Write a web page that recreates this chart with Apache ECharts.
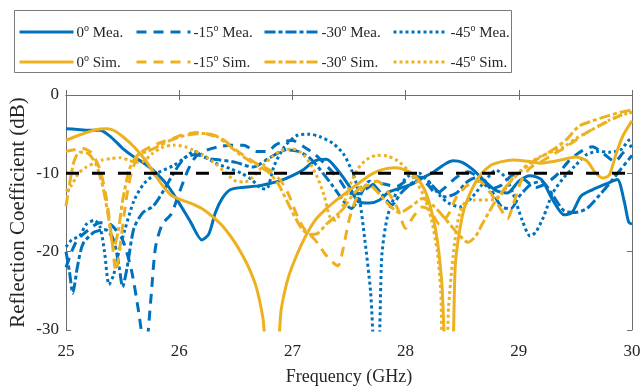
<!DOCTYPE html>
<html>
<head>
<meta charset="utf-8">
<script src="https://cdn.jsdelivr.net/npm/echarts@6/dist/echarts.min.js"></script>
<style>
  html, body { margin: 0; padding: 0; background: #fff; }
  #chart { width: 642px; height: 390px; }
</style>
</head>
<body>
<div id="chart"></div>
<script>
// Reflection coefficient (dB) versus frequency (GHz), measured and simulated at four steering angles.
const xTicks = [25, 26, 27, 28, 29, 30];
const yTicks = [-30, -20, -10, 0];
const threshold = -10;

const mea0 = [[25.0,-4.3],[25.1,-4.4],[25.2,-4.5],[25.3,-4.5],[25.4,-5.4],[25.5,-6.8],[25.6,-7.9],[25.7,-8.8],[25.8,-10.0],[25.9,-11.6],[26.0,-13.8],[26.1,-16.2],[26.2,-18.5],[26.26,-17.8],[26.32,-15.0],[26.38,-13.2],[26.45,-12.1],[26.55,-11.8],[26.7,-11.6],[26.8,-11.3],[26.9,-10.9],[27.0,-10.3],[27.1,-9.5],[27.2,-8.4],[27.3,-8.2],[27.4,-9.6],[27.5,-11.6],[27.58,-13.6],[27.68,-13.8],[27.77,-13.4],[27.85,-12.4],[27.95,-11.9],[28.05,-11.4],[28.15,-10.6],[28.25,-9.8],[28.35,-8.8],[28.42,-8.4],[28.5,-8.6],[28.6,-9.6],[28.7,-11.0],[28.8,-12.2],[28.9,-12.5],[29.0,-11.0],[29.1,-10.3],[29.2,-10.8],[29.3,-13.4],[29.4,-15.3],[29.47,-15.0],[29.55,-12.9],[29.65,-12.1],[29.78,-11.3],[29.87,-10.8],[29.93,-13.5],[29.97,-16.2],[30.0,-16.5]];

const mea15 = [[25.0,-22.0],[25.05,-20.0],[25.1,-18.5],[25.2,-17.2],[25.3,-16.3],[25.4,-16.6],[25.5,-18.5],[25.58,-22.5],[25.64,-27.5],[25.7,-33],[25.75,-26.0],[25.79,-19.5],[25.85,-16.5],[25.93,-15.2],[26.0,-12.5],[26.08,-9.5],[26.15,-7.8],[26.25,-7.0],[26.35,-6.6],[26.45,-6.4],[26.57,-6.4],[26.68,-7.2],[26.78,-7.2],[26.85,-6.4],[26.93,-5.9],[27.0,-5.8],[27.1,-6.6],[27.2,-7.6],[27.3,-9.0],[27.42,-10.9],[27.5,-12.5],[27.57,-12.6],[27.65,-12.0],[27.75,-11.2],[27.85,-11.5],[27.92,-11.7],[28.0,-11.0],[28.1,-10.4],[28.2,-11.5],[28.27,-12.6],[28.35,-11.8],[28.45,-10.5],[28.55,-9.8],[28.65,-10.6],[28.75,-12.0],[28.85,-11.5],[28.95,-10.2],[29.05,-10.8],[29.15,-11.8],[29.25,-11.2],[29.35,-10.0],[29.45,-8.3],[29.55,-7.2],[29.65,-6.6],[29.75,-7.5],[29.85,-8.5],[29.92,-7.4],[30.0,-6.4]];

const mea30 = [[25.0,-20.0],[25.03,-22.5],[25.06,-25.3],[25.1,-22.0],[25.15,-19.0],[25.25,-17.5],[25.35,-17.2],[25.42,-18.5],[25.47,-22.0],[25.5,-24.5],[25.54,-22.0],[25.6,-17.0],[25.68,-15.0],[25.77,-14.2],[25.85,-12.5],[25.95,-10.0],[26.05,-8.0],[26.15,-7.6],[26.25,-8.1],[26.36,-8.3],[26.5,-8.6],[26.65,-9.2],[26.8,-8.0],[26.95,-7.0],[27.05,-7.2],[27.15,-8.0],[27.25,-9.6],[27.35,-11.5],[27.45,-13.5],[27.52,-14.5],[27.6,-12.8],[27.68,-11.0],[27.78,-12.5],[27.88,-14.0],[27.96,-12.5],[28.05,-11.3],[28.15,-10.5],[28.25,-11.8],[28.35,-13.0],[28.45,-12.5],[28.55,-11.0],[28.65,-10.4],[28.75,-12.0],[28.85,-14.3],[28.93,-14.5],[29.0,-13.0],[29.1,-11.5],[29.2,-11.0],[29.3,-12.8],[29.4,-14.8],[29.5,-15.0],[29.6,-14.5],[29.7,-13.0],[29.8,-11.3],[29.9,-9.5],[30.0,-7.7]];

const mea45 = [[25.0,-19.4],[25.05,-18.5],[25.12,-18.0],[25.18,-16.5],[25.25,-16.0],[25.3,-16.8],[25.34,-20.0],[25.38,-24.2],[25.42,-23.0],[25.47,-19.8],[25.52,-17.2],[25.6,-13.5],[25.69,-11.3],[25.8,-10.0],[25.95,-9.0],[26.05,-8.0],[26.13,-7.2],[26.22,-7.8],[26.32,-8.7],[26.45,-9.4],[26.55,-10.0],[26.64,-10.8],[26.72,-11.9],[26.77,-12.0],[26.84,-9.0],[26.93,-6.6],[27.05,-5.1],[27.15,-5.0],[27.24,-5.3],[27.36,-6.2],[27.45,-7.5],[27.52,-9.5],[27.58,-12.1],[27.64,-18.5],[27.69,-25.0],[27.73,-33],[27.76,-33],[27.79,-20.5],[27.84,-15.5],[27.93,-12.1],[28.02,-10.4],[28.12,-10.0],[28.22,-11.3],[28.3,-12.8],[28.38,-13.8],[28.48,-14.3],[28.59,-13.0],[28.7,-11.0],[28.8,-9.6],[28.88,-10.5],[28.95,-12.6],[29.03,-16.0],[29.1,-18.0],[29.15,-17.5],[29.22,-15.5],[29.3,-12.5],[29.4,-10.5],[29.5,-9.0],[29.6,-7.6],[29.7,-7.2],[29.8,-7.3],[29.9,-7.0],[29.97,-5.8],[30.0,-5.6]];

const sim0 = [[25.0,-5.8],[25.1,-5.2],[25.2,-4.7],[25.3,-4.35],[25.36,-4.3],[25.42,-4.5],[25.5,-5.3],[25.6,-6.6],[25.7,-8.3],[25.76,-9.6],[25.85,-11.5],[25.93,-12.8],[26.0,-13.3],[26.1,-13.8],[26.2,-14.5],[26.3,-15.6],[26.4,-17.0],[26.5,-19.0],[26.6,-21.6],[26.68,-24.5],[26.74,-28.5],[26.78,-33],[26.86,-33],[26.9,-27.5],[26.95,-24.0],[27.0,-21.8],[27.1,-18.5],[27.2,-16.0],[27.3,-14.5],[27.4,-13.3],[27.5,-12.2],[27.6,-11.1],[27.7,-10.1],[27.8,-9.5],[27.9,-9.3],[28.0,-9.6],[28.1,-10.6],[28.18,-12.5],[28.24,-15.5],[28.28,-18.5],[28.32,-24.0],[28.36,-33],[28.41,-33],[28.44,-21.5],[28.5,-15.5],[28.55,-13.2],[28.65,-10.4],[28.75,-9.0],[28.85,-8.5],[28.95,-8.3],[29.1,-8.5],[29.2,-8.7],[29.3,-8.5],[29.4,-8.2],[29.5,-7.9],[29.6,-8.4],[29.67,-9.8],[29.74,-10.6],[29.8,-10.2],[29.86,-7.5],[29.92,-5.2],[30.0,-3.3]];

const sim15 = [[25.0,-7.2],[25.07,-7.0],[25.14,-6.8],[25.22,-7.3],[25.3,-9.5],[25.36,-13.5],[25.41,-19.0],[25.44,-22.5],[25.48,-19.0],[25.53,-13.5],[25.58,-9.8],[25.65,-7.5],[25.75,-6.6],[25.85,-6.0],[25.95,-5.5],[26.05,-5.0],[26.18,-4.8],[26.3,-5.2],[26.4,-5.8],[26.5,-7.0],[26.6,-8.0],[26.7,-8.9],[26.8,-9.6],[26.9,-11.0],[26.97,-12.8],[27.03,-15.0],[27.1,-17.0],[27.2,-18.5],[27.3,-20.5],[27.4,-21.8],[27.45,-19.5],[27.5,-16.0],[27.56,-13.4],[27.65,-11.5],[27.75,-11.0],[27.85,-12.5],[27.93,-14.5],[28.0,-17.0],[28.07,-15.5],[28.15,-14.3],[28.22,-14.8],[28.3,-16.5],[28.38,-15.2],[28.45,-13.0],[28.55,-11.5],[28.65,-11.0],[28.75,-12.5],[28.85,-14.8],[28.9,-15.8],[28.95,-14.0],[29.02,-11.0],[29.1,-9.3],[29.2,-8.5],[29.3,-7.6],[29.4,-6.8],[29.5,-5.8],[29.6,-4.8],[29.7,-4.0],[29.8,-3.3],[29.9,-2.6],[30.0,-2.2]];

const sim30 = [[25.0,-14.2],[25.03,-11.5],[25.07,-8.5],[25.12,-7.3],[25.2,-7.5],[25.27,-9.0],[25.33,-12.0],[25.38,-16.0],[25.42,-19.5],[25.46,-17.5],[25.5,-13.5],[25.56,-9.5],[25.63,-7.7],[25.72,-7.2],[25.82,-6.5],[25.92,-5.8],[26.02,-5.3],[26.12,-5.0],[26.22,-4.9],[26.32,-5.2],[26.42,-6.2],[26.52,-7.4],[26.62,-8.4],[26.72,-9.2],[26.8,-10.0],[26.88,-11.5],[26.95,-13.5],[27.02,-15.5],[27.08,-17.0],[27.15,-17.8],[27.22,-17.7],[27.3,-16.5],[27.38,-15.5],[27.45,-14.5],[27.52,-13.0],[27.6,-11.8],[27.68,-11.5],[27.76,-12.5],[27.85,-14.0],[27.95,-15.0],[28.05,-14.2],[28.15,-13.2],[28.25,-14.2],[28.35,-15.8],[28.45,-17.5],[28.55,-18.8],[28.62,-18.0],[28.68,-16.4],[28.8,-13.4],[28.91,-11.3],[29.03,-9.6],[29.15,-8.3],[29.3,-7.0],[29.42,-5.7],[29.53,-4.0],[29.65,-3.3],[29.78,-2.7],[29.9,-2.2],[30.0,-1.9]];

const sim45 = [[25.0,-12.3],[25.05,-11.5],[25.11,-10.0],[25.18,-9.2],[25.25,-8.7],[25.32,-8.3],[25.4,-8.1],[25.48,-8.0],[25.55,-8.3],[25.62,-8.6],[25.68,-8.5],[25.76,-7.5],[25.85,-6.7],[25.95,-6.4],[26.05,-6.6],[26.12,-7.0],[26.2,-7.6],[26.3,-8.5],[26.4,-9.8],[26.5,-11.0],[26.58,-11.1],[26.65,-10.5],[26.73,-9.2],[26.82,-7.9],[26.9,-7.1],[27.0,-6.9],[27.08,-7.4],[27.15,-8.6],[27.22,-10.5],[27.28,-12.8],[27.33,-15.5],[27.38,-16.0],[27.45,-14.0],[27.5,-11.8],[27.58,-9.4],[27.66,-8.2],[27.75,-7.7],[27.84,-7.8],[27.93,-8.4],[28.02,-9.6],[28.1,-11.2],[28.17,-13.2],[28.23,-16.0],[28.28,-20.0],[28.31,-25.0],[28.33,-33],[28.36,-33],[28.38,-27.0],[28.42,-20.5],[28.47,-15.5],[28.53,-13.6],[28.6,-13.4],[28.7,-13.4],[28.8,-13.3],[28.88,-12.0],[28.95,-10.5],[29.02,-9.6],[29.1,-8.6],[29.2,-7.8],[29.3,-7.2],[29.4,-6.6],[29.5,-5.6],[29.6,-4.8],[29.7,-4.0],[29.8,-3.2],[29.9,-2.6],[30.0,-2.2]];

const BLUE = '#0072BD';
const GOLD = '#EDB120';
const FONT = "'Liberation Serif', 'Times New Roman', serif";
const TEXT = '#262626';
const DASH = [10, 7];
const DASHDOT = [11, 3, 4, 3];
const DOT = [3, 3];

function curve(name, data, color, type) {
  return {
    name: name,
    type: 'line',
    data: data,
    showSymbol: false,
    symbol: 'none',
    smooth: 0.25,
    clip: true,
    lineStyle: { color: color, width: 3, type: type, cap: 'butt' },
    itemStyle: { color: color },
    emphasis: { disabled: true },
    animation: false
  };
}

const series = [
  curve('0° Mea.', mea0, BLUE, 'solid'),
  curve('-15° Mea.', mea15, BLUE, DASH),
  curve('-30° Mea.', mea30, BLUE, DASHDOT),
  curve('-45° Mea.', mea45, BLUE, DOT),
  curve('0° Sim.', sim0, GOLD, 'solid'),
  curve('-15° Sim.', sim15, GOLD, DASH),
  curve('-30° Sim.', sim30, GOLD, DASHDOT),
  curve('-45° Sim.', sim45, GOLD, DOT),
  {
    name: 'threshold',
    type: 'line',
    data: [[xTicks[0], threshold], [xTicks[xTicks.length - 1], threshold]],
    showSymbol: false,
    symbol: 'none',
    lineStyle: { color: '#000', width: 3, type: [13, 13] },
    emphasis: { disabled: true },
    animation: false,
    z: 5
  }
];

// Legend labels: angle, raised "o" for degrees, then the data kind.
const legendRich = {
  n: { fontFamily: FONT, fontSize: 15, color: TEXT, lineHeight: 18, verticalAlign: 'bottom' },
  s: { fontFamily: FONT, fontSize: 10, color: TEXT, lineHeight: 10, verticalAlign: 'top' }
};
function legendLabel(name) {
  const parts = name.split('°');
  return '{n|' + parts[0] + '}{s|o}{n|' + parts[1] + '}';
}
const columns = [
  ['0° Mea.', '0° Sim.', 18],
  ['-15° Mea.', '-15° Sim.', 135],
  ['-30° Mea.', '-30° Sim.', 263],
  ['-45° Mea.', '-45° Sim.', 392]
];
const legends = columns.map(c => ({
  data: [c[0], c[1]],
  orient: 'vertical',
  left: c[2],
  top: 23,
  itemWidth: 54,
  itemHeight: 16,
  itemGap: 12,
  padding: 0,
  selectedMode: false,
  itemStyle: { opacity: 0 },
  lineStyle: { width: 3 },
  formatter: legendLabel,
  textStyle: { rich: legendRich, padding: [0, 0, 0, -2] }
}));

const axisCommon = {
  type: 'value',
  axisLine: { show: true, lineStyle: { color: '#6e6e6e', width: 1 } },
  axisTick: { show: true, inside: true, length: 5, lineStyle: { color: '#6e6e6e' } },
  splitLine: { show: false }
};

const chart = echarts.init(document.getElementById('chart'), null, { renderer: 'canvas' });
chart.setOption({
  animation: false,
  backgroundColor: '#fff',
  graphic: [{
    type: 'rect',
    shape: { x: 14.5, y: 10.5, width: 497, height: 62 },
    style: { fill: '#fff', stroke: '#7a7a7a', lineWidth: 1 },
    z: -1
  }],
  legend: legends,
  grid: { left: 66, right: 10, top: 95, bottom: 60, containLabel: false, outerBoundsMode: 'none' },
  xAxis: [
    Object.assign({}, axisCommon, {
      min: xTicks[0], max: xTicks[xTicks.length - 1], interval: 1,
      position: 'bottom',
      name: 'Frequency (GHz)', nameLocation: 'middle', nameGap: 38, nameMoveOverlap: false,
      nameTextStyle: { fontFamily: FONT, fontSize: 18, color: TEXT },
      axisLabel: { fontFamily: FONT, fontSize: 17, color: TEXT, margin: 13 }
    }),
    Object.assign({}, axisCommon, {
      min: xTicks[0], max: xTicks[xTicks.length - 1], interval: 1,
      position: 'top', axisLabel: { show: false }
    })
  ],
  yAxis: [
    Object.assign({}, axisCommon, {
      min: yTicks[0], max: yTicks[yTicks.length - 1], interval: 10,
      position: 'left',
      name: 'Reflection Coefficient (dB)', nameLocation: 'middle', nameGap: 37, nameMoveOverlap: false,
      nameTextStyle: { fontFamily: FONT, fontSize: 21, color: TEXT },
      axisLabel: { fontFamily: FONT, fontSize: 17, color: TEXT, margin: 7 }
    }),
    Object.assign({}, axisCommon, {
      min: yTicks[0], max: yTicks[yTicks.length - 1], interval: 10,
      position: 'right', axisLabel: { show: false }
    })
  ],
  series: series
});
</script>
</body>
</html>
